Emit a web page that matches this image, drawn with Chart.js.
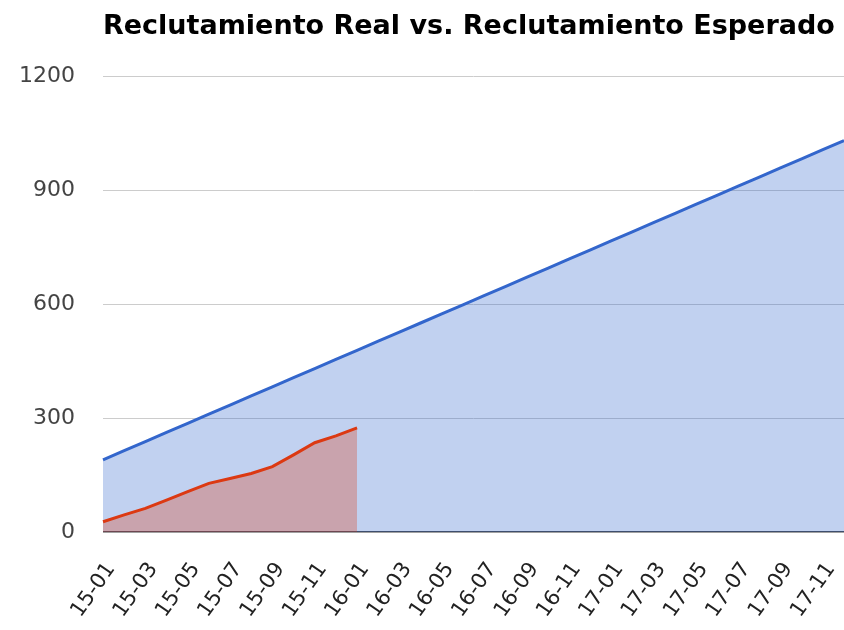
<!DOCTYPE html>
<html>
<head>
<meta charset="utf-8">
<script src="https://cdn.jsdelivr.net/npm/chart.js@4.4.1/dist/chart.umd.min.js"></script>
<style>
  html, body { margin: 0; padding: 0; background: #fff; }
  #wrap { width: 844px; height: 630px; }
</style>
</head>
<body>
<div id="wrap"><canvas id="graph_ID" width="844" height="630"></canvas></div>
<script>
    var meses = ['15-01','15-02','15-03','15-04','15-05','15-06','15-07','15-08','15-09','15-10','15-11','15-12',
                 '16-01','16-02','16-03','16-04','16-05','16-06','16-07','16-08','16-09','16-10','16-11','16-12',
                 '17-01','17-02','17-03','17-04','17-05','17-06','17-07','17-08','17-09','17-10','17-11','17-12'];

    // reclutamiento real (solo hasta 16-01)
    var real = [27, 45, 62, 84, 106, 128, 141, 154, 172, 203, 235, 253, 274];

    // reclutamiento esperado
    var esperado = [190, 214, 238, 262, 286, 310, 334, 358, 382, 406, 430, 454,
                    478, 502, 526, 550, 574, 598, 622, 646, 670, 694, 718, 742,
                    766, 790, 814, 838, 862, 886, 910, 934, 958, 982, 1006, 1030];

    var yTicks = [0, 300, 600, 900, 1200];

    var fuente = "'DejaVu Sans', sans-serif";

    var options = {
        responsive: false,
        animation: false,
        layout: { padding: 0 },
        scales: {
            x: {
                type: 'category',
                offset: false,
                grid: { display: false, drawTicks: false },
                border: { display: false },
                ticks: {
                    autoSkip: false,
                    minRotation: 55,
                    maxRotation: 55,
                    padding: 26,
                    labelOffset: 8,
                    color: '#222',
                    font: { family: fuente, size: 21 },
                    callback: function(val, i) {
                        return i % 2 == 0 ? meses[i] : '';
                    }
                },
                afterFit: function(scale) {
                    scale.height = 98;
                    scale.paddingLeft = 0;
                    scale.paddingRight = 0;
                }
            },
            y: {
                min: 0,
                max: 1200,
                grid: {
                    drawTicks: false,
                    lineWidth: function(context) {
                        return context.tick.value == 0 ? 1.5 : 1;
                    },
                    color: function(context) {
                        if (context.tick.value == 0) {
                            return '#444';
                        }
                        return '#cccccc';
                    }
                },
                border: { display: false },
                afterBuildTicks: function(scale) {
                    scale.ticks = yTicks.map(function(v) { return { value: v }; });
                },
                ticks: {
                    padding: 28,
                    color: '#444',
                    font: { family: fuente, size: 22 },
                    callback: function(v) { return String(v); }
                },
                afterFit: function(scale) {
                    scale.width = 103;
                    scale.paddingTop = 0;
                    scale.paddingBottom = 0;
                }
            }
        },
        plugins: {
            legend: { display: false },
            tooltip: { enabled: false },
            title: {
                display: true,
                text: 'Reclutamiento Real vs. Reclutamiento Esperado',
                align: 'start',
                fullSize: false,
                color: '#000',
                font: { family: fuente, size: 27, weight: 'bold' },
                padding: { top: 10.5, bottom: 33.1 }
            }
        }
    };

    var ctx = document.getElementById('graph_ID').getContext('2d');
    var graphique = new Chart(ctx, {
        type: 'line',
        data: {
            labels: meses,
            datasets: [
                {
                    label: 'Real',
                    data: real,
                    borderColor: '#dc3912',
                    backgroundColor: 'rgba(220,57,18,0.3)',
                    borderWidth: 3,
                    pointRadius: 0,
                    tension: 0,
                    fill: 'origin'
                },
                {
                    label: 'Esperado',
                    data: esperado,
                    borderColor: '#3366cc',
                    backgroundColor: 'rgba(51,102,204,0.3)',
                    borderWidth: 3,
                    pointRadius: 0,
                    tension: 0,
                    fill: 'origin'
                }
            ]
        },
        options: options
    });
</script>
</body>
</html>
